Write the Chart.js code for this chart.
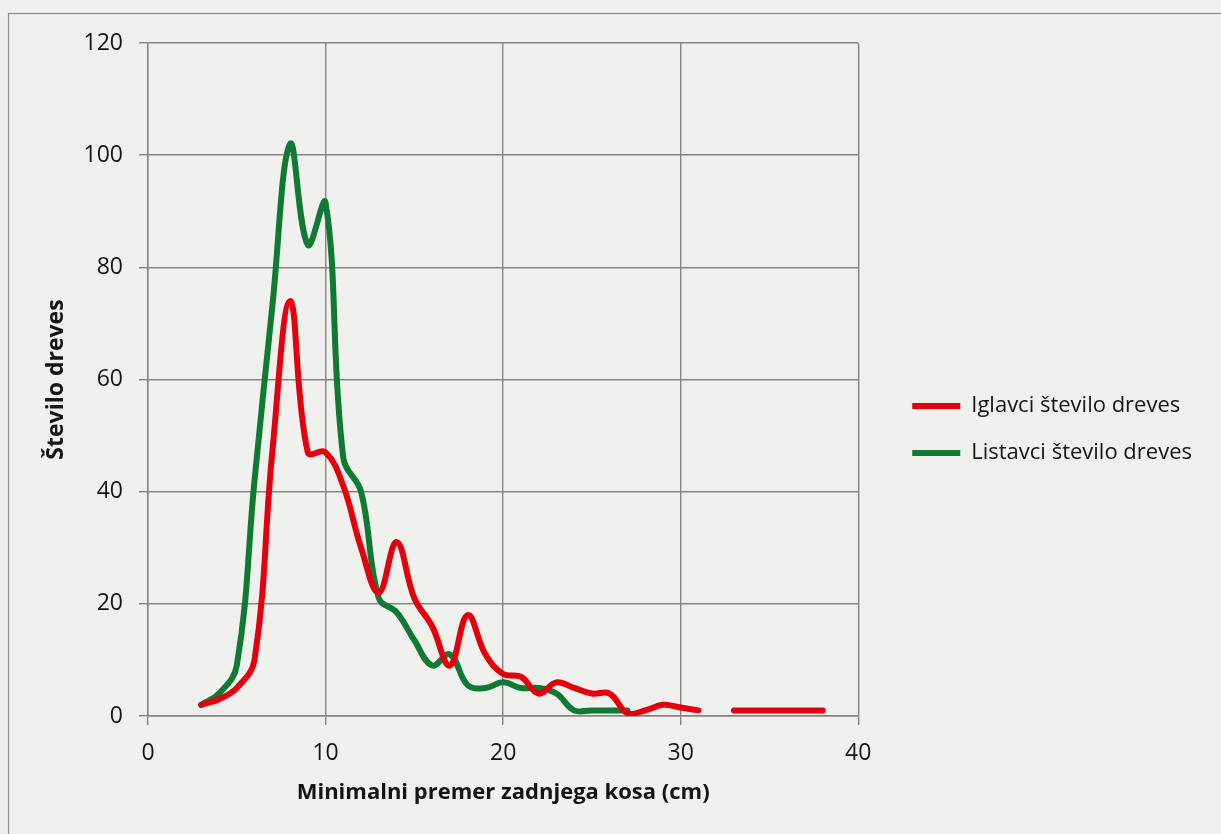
<!DOCTYPE html>
<html lang="sl">
<head>
    <meta charset="UTF-8">
    <title>Število dreves po minimalnem premeru</title>
    <script src="https://cdn.jsdelivr.net/npm/chart.js@4.4.1/dist/chart.umd.min.js"></script>
    <style>
        html, body { margin: 0; padding: 0; background: #f0f0ec; }
        .chart-container { width: 1221px; height: 834px; }
    </style>
</head>
<body>
    <div class="chart-container">
        <canvas id="dreviChart"></canvas>
    </div>

    <script>
        // premer (cm)
        const premeri = [3, 4, 5, 6, 7, 8, 9, 10, 11, 12, 13, 14, 15, 16, 17, 18, 19, 20,
                         21, 22, 23, 24, 25, 26, 27, 28, 29, 30, 31, 32, 33, 34, 35, 36, 37, 38];
        const iglavci = [2, 3, 5, 10, 47, 74, 47, 47, 41, 30, 22, 31, 21, 16, 9, 18, 11, 7.5,
                         7, 4, 6, 5, 4, 4, 0.5, 1, 2, 1.5, 1, null, 1, 1, 1, 1, 1, 1];
        const listavci = [2, 4, 9, 42, 73, 102, 84, 91.5, 46, 40, 21, 18.5, 13.5, 9, 11, 5.5, 5, 6,
                          5, 5, 4, 1, 1, 1, 1, null, null, null, null, null, null, null, null, null, null, null];
        const xTicks = [0, 10, 20, 30, 40];
        const yTicks = [0, 20, 40, 60, 80, 100, 120];

        const toPoints = vals => premeri.map((x, i) => ({ x: x, y: vals[i] }));

        // ozadje in okvir kot pri Excelu
        const ozadje = {
            id: 'ozadje',
            beforeDraw(chart) {
                const ctx = chart.ctx;
                ctx.save();
                ctx.fillStyle = '#f0f0ec';
                ctx.fillRect(0, 0, chart.width, chart.height);
                ctx.strokeStyle = '#8c8c8c';
                ctx.lineWidth = 1.2;
                ctx.strokeRect(8.5, 13.5, chart.width + 20, chart.height + 20);
                ctx.restore();
            }
        };

        const gridColor = '#858585';
        const textColor = '#141414';

        new Chart(document.getElementById('dreviChart').getContext('2d'), {
            type: 'line',
            data: {
                datasets: [{
                    label: 'Iglavci število dreves',
                    data: toPoints(iglavci),
                    borderColor: '#e3000f',
                    backgroundColor: '#e3000f',
                    borderWidth: 6,
                    borderCapStyle: 'round',
                    borderJoinStyle: 'round',
                    pointRadius: 0,
                    tension: 0.4,
                    spanGaps: false
                }, {
                    label: 'Listavci število dreves',
                    data: toPoints(listavci),
                    borderColor: '#107a35',
                    backgroundColor: '#107a35',
                    borderWidth: 6,
                    borderCapStyle: 'round',
                    borderJoinStyle: 'round',
                    pointRadius: 0,
                    tension: 0.4,
                    spanGaps: false
                }]
            },
            options: {
                responsive: true,
                maintainAspectRatio: false,
                animation: false,
                layout: { padding: { left: 41, top: 43, right: 19, bottom: 26 } },
                scales: {
                    x: {
                        type: 'linear',
                        min: 0,
                        max: 40,
                        afterBuildTicks: s => { s.ticks = xTicks.map(v => ({ value: v })); },
                        afterFit: s => { s.height = 92; },
                        grid: { color: gridColor, lineWidth: 1.4, tickLength: 9, tickColor: gridColor },
                        border: { color: gridColor, width: 1.4 },
                        ticks: { color: textColor, font: { family: 'Open Sans', size: 23 }, padding: 15 },
                        title: {
                            display: true,
                            text: 'Minimalni premer zadnjega kosa (cm)',
                            color: textColor,
                            font: { family: 'Open Sans', size: 22, weight: 'bold' },
                            padding: { top: 15, bottom: 2 }
                        }
                    },
                    y: {
                        min: 0,
                        max: 120,
                        afterBuildTicks: s => { s.ticks = yTicks.map(v => ({ value: v })); },
                        afterFit: s => { s.width = 107; },
                        grid: { color: gridColor, lineWidth: 1.4, tickLength: 9, tickColor: gridColor },
                        border: { color: gridColor, width: 1.4 },
                        ticks: { color: textColor, font: { family: 'Open Sans', size: 23 }, padding: 16 },
                        title: {
                            display: true,
                            text: 'Število dreves',
                            color: textColor,
                            font: { family: 'Open Sans', size: 23, weight: 'bold' },
                            padding: { top: 2, bottom: 17 }
                        }
                    },
                    // prazen prostor med risalno površino in legendo
                    razmik: {
                        type: 'linear',
                        position: 'right',
                        display: true,
                        grid: { display: false },
                        border: { display: false },
                        ticks: { display: false },
                        afterFit: s => { s.width = 29; }
                    }
                },
                plugins: {
                    legend: {
                        position: 'right',
                        align: 'center',
                        maxWidth: 420,
                        title: { display: true, text: ' ', font: { size: 4 }, padding: 1.6 },
                        labels: {
                            usePointStyle: true,
                            pointStyle: 'line',
                            pointStyleWidth: 48,
                            padding: 25,
                            color: textColor,
                            font: { family: 'Open Sans', size: 22 }
                        }
                    },
                    tooltip: { enabled: false }
                }
            },
            plugins: [ozadje]
        });
    </script>
</body>
</html>
